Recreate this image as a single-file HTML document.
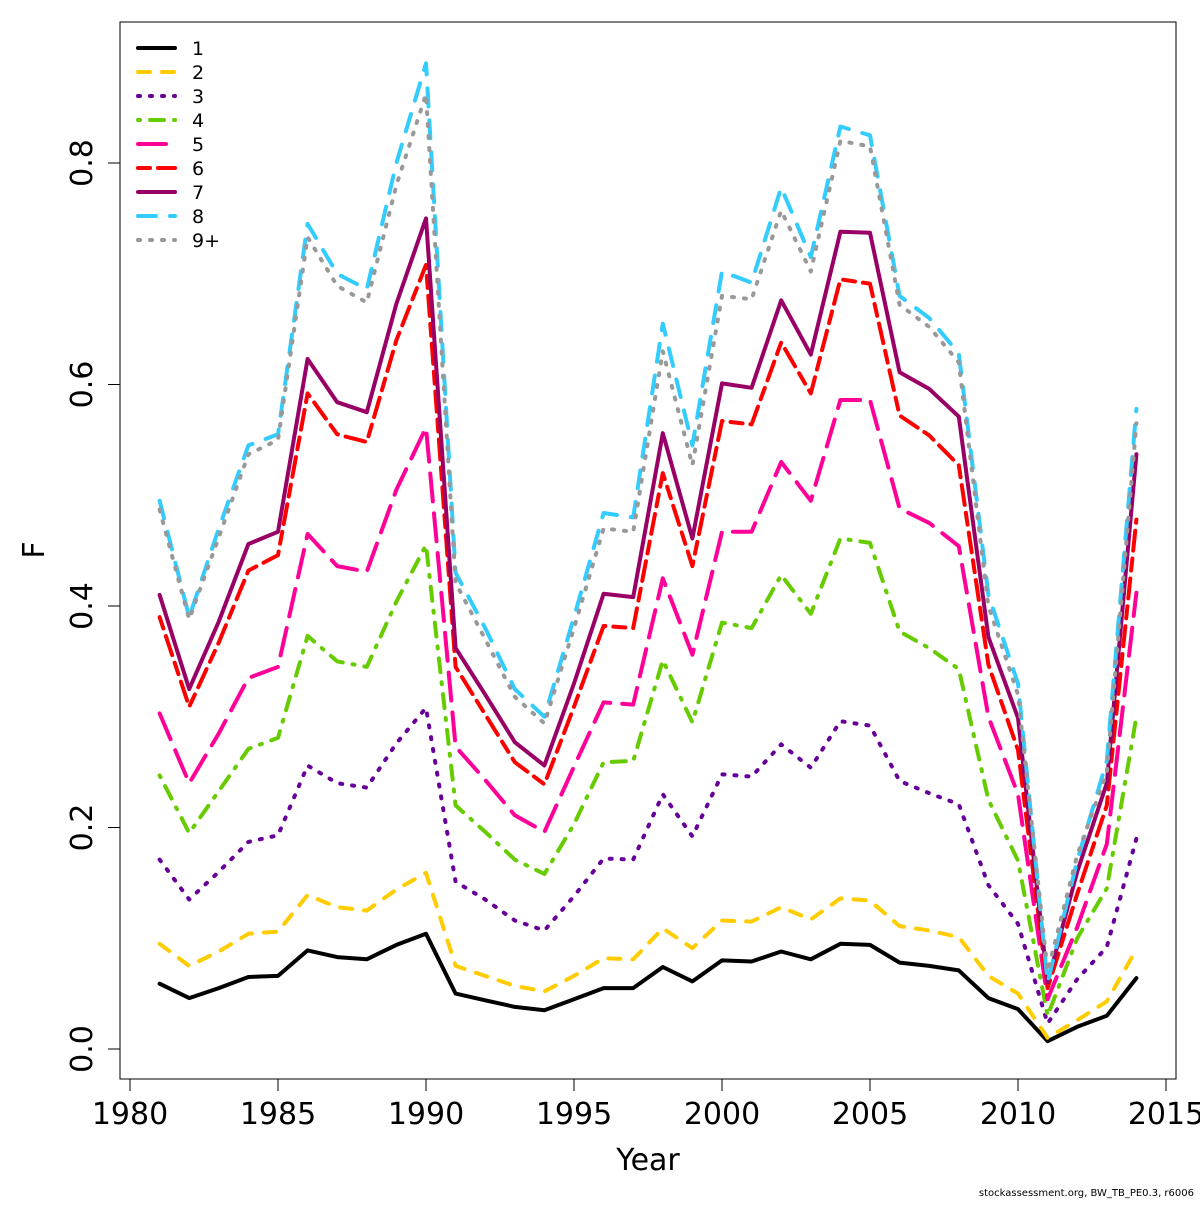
<!DOCTYPE html>
<html><head><meta charset="utf-8"><style>
body{margin:0;background:#fff}
svg text{font-family:"DejaVu Sans","Liberation Sans",sans-serif}
</style></head><body>
<svg id="chart" width="1200" height="1200" viewBox="0 0 1200 1200" xmlns="http://www.w3.org/2000/svg">
<rect width="1200" height="1200" fill="#fff"/>
<rect x="120" y="22" width="1056" height="1057" fill="none" stroke="#000" stroke-width="1"/>
<g id="axes"></g>
<g id="series"></g>
<g id="legend"></g>
<text x="648" y="1170" font-size="30" text-anchor="middle">Year</text>
<text x="44" y="550" font-size="30" text-anchor="middle" transform="rotate(-90 44 550)">F</text>
<text x="1194" y="1196" font-size="10" text-anchor="end">stockassessment.org, BW_TB_PE0.3, r6006</text>
</svg>
<script>
const years=[];for(let y=1981;y<=2014;y++)years.push(y);
const seriesNames=["1","2","3","4","5","6","7","8","9+"];
const s1=[.059,.046,.055,.065,.066,.089,.083,.081,.094,.104,.050,.044,.038,.035,.045,.055,.055,.074,.061,.080,.079,.088,.081,.095,.094,.078,.075,.071,.046,.036,.007,.020,.030,.064];
const s2=[.095,.075,.088,.104,.106,.139,.128,.125,.144,.159,.075,.066,.057,.052,.066,.082,.081,.109,.091,.116,.115,.128,.117,.136,.134,.111,.107,.101,.066,.050,.010,.026,.043,.090];
const s3=[.171,.135,.160,.187,.193,.256,.240,.236,.276,.308,.151,.135,.116,.107,.138,.172,.171,.230,.192,.248,.246,.275,.254,.296,.292,.242,.231,.221,.148,.113,.023,.063,.092,.190];
const s4=[.247,.195,.233,.271,.281,.373,.350,.345,.404,.455,.220,.196,.171,.158,.203,.259,.260,.351,.295,.385,.380,.428,.393,.461,.457,.377,.362,.343,.225,.170,.030,.100,.145,.300];
const s5=[.303,.240,.285,.335,.345,.465,.436,.431,.505,.561,.273,.243,.211,.196,.255,.313,.311,.425,.356,.467,.467,.530,.495,.586,.586,.488,.475,.454,.300,.230,.045,.110,.185,.412];
const s6=[.390,.309,.367,.432,.446,.592,.555,.548,.640,.708,.345,.302,.259,.239,.309,.382,.380,.520,.436,.567,.564,.638,.592,.695,.691,.572,.554,.527,.347,.270,.055,.140,.220,.478];
const s7=[.410,.325,.386,.456,.467,.623,.584,.575,.673,.750,.362,.320,.277,.256,.330,.411,.408,.556,.461,.601,.597,.676,.627,.738,.737,.611,.596,.571,.372,.299,.060,.160,.240,.537];
const s8=[.495,.390,.470,.545,.555,.745,.700,.686,.800,.890,.430,.380,.325,.300,.390,.484,.480,.655,.545,.702,.692,.778,.715,.833,.825,.680,.660,.628,.410,.330,.060,.170,.260,.578];
const s9=[.487,.388,.462,.537,.550,.733,.689,.674,.780,.862,.421,.370,.318,.294,.380,.470,.467,.630,.527,.680,.677,.757,.702,.820,.815,.672,.652,.620,.400,.320,.070,.175,.250,.565];
const xTicks=[1980,1985,1990,1995,2000,2005,2010,2015];
const yTicks=[0,0.2,0.4,0.6,0.8];
const yTickLabels=["0.0","0.2","0.4","0.6","0.8"];
const allSeries=[s1,s2,s3,s4,s5,s6,s7,s8,s9];
const colors=["#000000","#FFCC00","#660099","#66CC00","#FF0099","#FF0000","#990066","#33CCFF","#999999"];
const dashes=["","12 12","2 10","2 10 14 10","28 12","12 8 20 8","","18 14","2 10"];
const NS="http://www.w3.org/2000/svg";
const xs=y=>130+(y-1980)*29.6;
const ys=v=>1049-v*1107.5;
function mk(tag,attrs,parent){const e=document.createElementNS(NS,tag);for(const k in attrs)e.setAttribute(k,attrs[k]);parent.appendChild(e);return e;}
const axes=document.getElementById('axes');
let xl=mk('line',{x1:xs(1980),x2:xs(2015),y1:1079,y2:1079,stroke:'#000'},axes);


xTicks.forEach(t=>{
  const l=mk('line',{x1:xs(t),x2:xs(t),y1:1079,y2:1091,stroke:'#000'},axes);
  
  
  const tx=mk('text',{x:xs(t),y:1124,'font-size':30,'text-anchor':'middle'},axes);tx.textContent=t;
  
  
});
let yl=mk('line',{x1:120,x2:120,y1:ys(0),y2:ys(0.8),stroke:'#000'},axes);


yTicks.forEach((t,i)=>{
  const l=mk('line',{x1:108,x2:120,y1:ys(t),y2:ys(t),stroke:'#000'},axes);
  
  
  const tx=mk('text',{x:92,y:ys(t),'font-size':30,'text-anchor':'middle',transform:`rotate(-90 92 ${ys(t)})`},axes);tx.textContent=yTickLabels[i];
  
  
});
const sg=document.getElementById('series');
allSeries.forEach((s,i)=>{
  const d=s.map((v,j)=>(j?'L':'M')+xs(years[j]).toFixed(1)+','+ys(v).toFixed(1)).join('');
  const p=mk('path',{d:d,fill:'none',stroke:colors[i],'stroke-width':4,'stroke-linecap':'round','stroke-linejoin':'round'},sg);
  if(dashes[i])p.setAttribute('stroke-dasharray',dashes[i]);
  
  
});
const lg=document.getElementById('legend');
seriesNames.forEach((n,i)=>{
  const y=48+i*24;
  const g=mk('g',{},lg);
  
  
  const l=mk('line',{x1:138,x2:175,y1:y,y2:y,stroke:colors[i],'stroke-width':4,'stroke-linecap':'round'},g);
  if(dashes[i])l.setAttribute('stroke-dasharray',dashes[i]);
  const t=mk('text',{x:192,y:y+7,'font-size':19},g);t.textContent=n;
});
</script>
</body></html>
